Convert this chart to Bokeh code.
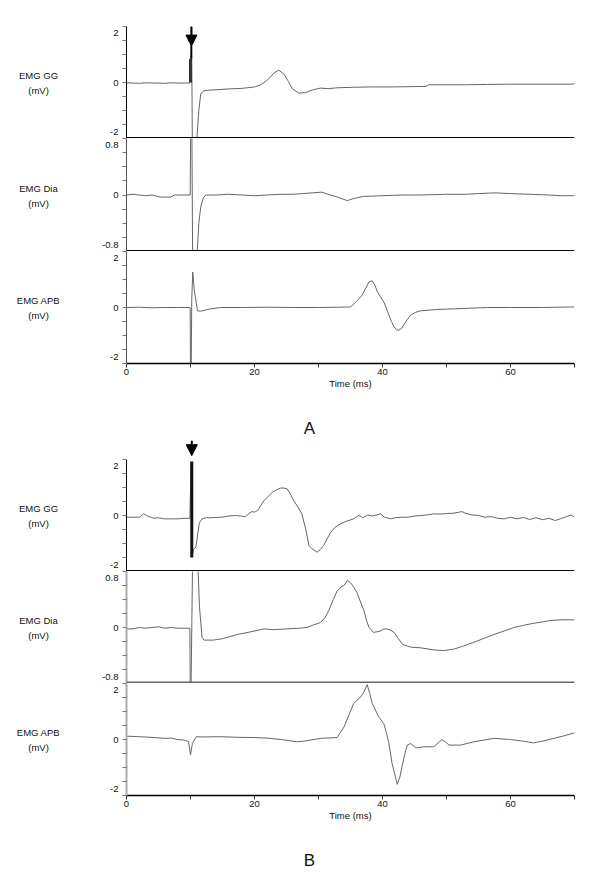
from bokeh.plotting import figure
from bokeh.layouts import column, row
from bokeh.models import Range1d, LinearAxis, FixedTicker, Span, Arrow, NormalHead
from bokeh.core.properties import value
from bokeh.embed import file_html
from bokeh.resources import INLINE

# ---------------- data (time in ms, amplitude in mV) ----------------
gg_a = [(0, -0.01), (1, -0.02), (2, -0.03), (3, -0.01), (4, -0.02), (5, -0.02), (6, -0.03),
        (7, -0.01), (8, -0.02), (9, -0.02), (9.9, -0.02), (10.0, 0.85), (10.15, 2.5), (10.3, -2.5),
        (10.9, -2.5), (11.0, -2.0), (11.3, -1.0), (11.6, -0.4), (12.1, -0.3), (13, -0.27),
        (14, -0.26), (16, -0.23), (18, -0.21), (20, -0.16), (21, -0.08), (22, 0.08), (23, 0.33),
        (23.8, 0.44), (24.6, 0.3), (25.3, 0.04), (25.9, -0.22), (26.9, -0.38), (28, -0.36),
        (29, -0.27), (30.3, -0.2), (31.5, -0.22), (32.9, -0.19), (35.5, -0.17), (38, -0.16),
        (40.7, -0.16), (44, -0.15), (46.8, -0.14), (47.2, -0.08), (50, -0.08), (53, -0.08),
        (56.4, -0.07), (60, -0.06), (63, -0.06), (66, -0.06), (69.5, -0.06), (70, -0.04)]

dia_a = [(0, 0.0), (1, 0.01), (2, 0.0), (3, -0.01), (4, 0.0), (5.3, -0.03), (6.9, -0.03),
         (7.5, 0.0), (8.5, 0.0), (9.95, 0.0), (10.05, 1.2), (10.2, 1.2), (10.35, -1.2),
         (10.9, -1.2), (11.05, -0.8), (11.3, -0.4), (11.6, -0.17), (12.0, -0.04), (12.4, 0.0),
         (14, 0.0), (16, 0.01), (18, 0.0), (20, -0.01), (22, 0.0), (24, 0.01), (26, 0.01),
         (27.5, 0.02), (29, 0.03), (30.5, 0.04), (31.5, 0.01), (33, -0.03), (34.5, -0.08),
         (35.5, -0.05), (37, -0.02), (40, -0.01), (43, 0.0), (46, 0.0), (50, 0.01), (53, 0.01),
         (55, 0.02), (57.5, 0.03), (60, 0.02), (63, 0.01), (66, 0.0), (68, -0.01), (70, -0.01)]

apb_a = [(0, 0.0), (2, 0.01), (4, -0.01), (6, 0.0), (8, 0.0), (9.95, 0.0), (10.0, -2.5),
         (10.1, -2.5), (10.2, 0.3), (10.35, 1.27), (10.6, 0.6), (11.1, -0.12), (11.6, -0.13),
         (12.5, -0.08), (13.1, -0.05), (14.7, 0.0), (18, 0.0), (22, 0.01), (26, 0.0), (30, 0.0),
         (33, 0.01), (35, 0.02), (35.5, 0.12), (36.2, 0.28), (36.8, 0.44), (37.4, 0.7),
         (37.9, 0.92), (38.4, 0.95), (38.8, 0.8), (39.2, 0.56), (39.7, 0.38), (40.2, 0.2),
         (40.6, -0.02), (41.0, -0.27), (41.4, -0.5), (41.8, -0.69), (42.2, -0.8), (42.6, -0.81),
         (43.0, -0.74), (43.3, -0.63), (43.9, -0.42), (44.4, -0.27), (45.2, -0.17), (45.9, -0.12),
         (48.5, -0.07), (51, -0.05), (56.4, 0.0), (60, 0.0), (65, 0.0), (70, 0.02)]

gg_b = [(0, -0.06), (1, -0.06), (2, -0.06), (2.7, 0.06), (3.3, -0.02), (4.3, -0.1), (5, -0.08),
        (6, -0.12), (7, -0.12), (8, -0.12), (9, -0.1), (9.9, -0.1), (10.1, 1.9), (10.25, -1.45),
        (10.5, -1.2), (10.85, -1.13), (11.1, -0.7), (11.4, -0.25), (11.8, -0.12), (12.5, -0.08),
        (13, -0.08), (14, -0.07), (15, -0.06), (16, -0.02), (17, 0.0), (18, -0.02), (18.6, -0.04),
        (19.2, 0.08), (19.6, 0.14), (20, 0.12), (20.5, 0.18), (21, 0.36), (21.5, 0.54),
        (22, 0.65), (22.8, 0.83), (23.5, 0.92), (24.1, 0.98), (24.6, 0.98), (25.1, 0.95),
        (25.6, 0.77), (26.1, 0.54), (26.8, 0.3), (27.4, 0.06), (28, -0.48), (28.5, -1.07),
        (29, -1.19), (29.8, -1.31), (30.3, -1.21), (30.8, -1.07), (31.4, -0.81), (31.9, -0.6),
        (32.6, -0.42), (33.4, -0.3), (34.3, -0.21), (35.5, -0.12), (36.3, 0.0), (37, -0.08),
        (37.7, 0.02), (38.4, -0.02), (39.1, 0.02), (39.7, 0.06), (40.3, -0.06), (41.3, -0.12),
        (42, -0.08), (43, -0.06), (44, -0.06), (45, -0.02), (46, 0.0), (47, 0.02), (48, 0.06),
        (49, 0.05), (50, 0.07), (51, 0.08), (52, 0.12), (52.4, 0.14), (53, 0.08), (54, 0.02),
        (55, 0.0), (56, -0.06), (57, -0.04), (58, -0.1), (59, -0.12), (60, -0.06), (61, -0.12),
        (62, -0.07), (63, -0.14), (64, -0.08), (65, -0.15), (66, -0.1), (67, -0.18), (68, -0.1),
        (69, -0.02), (69.5, 0.02), (70, -0.06)]

dia_b = [(0, -0.02), (1, -0.02), (2, 0.0), (3, -0.01), (4, 0.0), (5, 0.01), (6, -0.01), (7, 0.0),
         (8, -0.01), (9, -0.01), (9.9, -0.01), (10.0, -1.5), (10.4, 1.5), (10.9, 1.5), (11.4, 0.3),
         (11.8, -0.14), (12.1, -0.18), (13.6, -0.18), (15, -0.16), (17.3, -0.1), (19, -0.07),
         (21.5, -0.02), (23, -0.03), (25.1, -0.02), (27, -0.01), (28.2, 0.0), (29, 0.03),
         (30.3, 0.07), (31.0, 0.14), (31.6, 0.24), (32.3, 0.4), (32.9, 0.52), (33.5, 0.58),
         (34, 0.6), (34.5, 0.67), (35, 0.64), (35.5, 0.58), (36, 0.5), (36.5, 0.38), (37.1, 0.24),
         (37.5, 0.1), (37.9, 0.0), (38.6, -0.07), (39.2, -0.06), (39.7, -0.05), (40.2, -0.02),
         (40.7, -0.02), (41.3, -0.04), (41.8, -0.07), (42.5, -0.16), (43.1, -0.24), (44.4, -0.28),
         (45.9, -0.29), (48, -0.32), (49.5, -0.33), (51.1, -0.31), (52.5, -0.27), (54.3, -0.21),
         (56, -0.15), (57.4, -0.1), (59, -0.05), (60.5, 0.0), (62, 0.03), (63.6, 0.06),
         (65, 0.08), (66.2, 0.1), (68, 0.11), (70, 0.11)]

apb_b = [(0, 0.12), (2, 0.1), (4.3, 0.07), (6, 0.04), (7, 0.05), (8, 0.0), (9, -0.02),
         (9.7, -0.08), (10.0, -0.55), (10.3, -0.14), (10.9, 0.1), (12, 0.09), (14.7, 0.1),
         (17, 0.08), (19.9, 0.07), (22, 0.05), (24.1, 0.0), (26.7, -0.08), (28, -0.05),
         (30.3, 0.04), (32.9, 0.07), (34.0, 0.45), (34.8, 0.9), (35.5, 1.29), (36.6, 1.52),
         (37.1, 1.7), (37.6, 1.96), (38.0, 1.65), (38.4, 1.29), (39.4, 0.81), (40.2, 0.57),
         (40.6, 0.25), (41.0, -0.14), (41.5, -0.86), (42.3, -1.6), (42.7, -1.35), (43.1, -0.92),
         (43.5, -0.5), (43.9, -0.2), (44.4, -0.14), (45.2, -0.3), (46.5, -0.26), (48, -0.26),
         (48.7, -0.12), (49.3, 0.0), (49.8, -0.08), (50.4, -0.2), (52.2, -0.2), (54.3, -0.08),
         (57.4, 0.04), (60, 0.0), (62, -0.06), (63.6, -0.12), (65, -0.06), (66.8, 0.04),
         (68.5, 0.14), (70, 0.24)]

# stimulus time and stimulus-marker extent (mV)
stim_a = 10.0
stim_a_bar = (0.0, 0.85)
stim_b = 10.2
stim_b_bar = (-1.5, 1.93)

# axes
x_major = [0, 20, 40, 60]
x_minor = [10, 30, 50, 70]
gg_ticks = [-2, 0, 2]
gg_tick_labels = ["-2", "0", "2"]
gg_minor = [-1.5, -1, -0.5, 0.5, 1, 1.5]
dia_ticks = [-0.8, 0, 0.8]
dia_tick_labels = ["-0.8", "0", "0.8"]
dia_minor = [-0.6, -0.4, -0.2, 0.2, 0.4, 0.6]
apb_ticks = [-2, 0, 2]
apb_tick_labels = ["-2", "0", "2"]
apb_minor = [-1.5, -1, -0.5, 0.5, 1, 1.5]

FONT = "Liberation Sans"
TRACE = "#666666"
TXT = "#111111"
LAB_W = 90          # width of the label column
MAIN_W = 502        # width of the plot column
MAIN_LEFT = 36
RIGHT = 18
END_LABEL_SHIFT = 6.5   # px: end tick labels sit slightly inside the panel
LETTER_DX = 183         # px from the plot's left edge to the panel letter

xr = Range1d(0, 70)


def base_fig(width, height, x_range, y_range, left=0, right=0, top=0, bottom=0):
    p = figure(width=width, height=height, x_range=x_range, y_range=y_range,
               output_backend="svg", toolbar_location=None,
               x_axis_location=None, y_axis_location=None,
               min_border_left=left, min_border_right=right,
               min_border_top=top, min_border_bottom=bottom)
    p.outline_line_color = None
    p.xgrid.visible = False
    p.ygrid.visible = False
    p.background_fill_color = "white"
    p.border_fill_color = "white"
    return p


def panel(samples, lim, ticks, tick_labels, minor, name, frame_h, top=0, bottom=0,
          axis_color="black", axis_width=1, sep_color="black", sep_width=3,
          time_axis=False):
    t = [s[0] for s in samples]
    v = [s[1] for s in samples]
    yr = Range1d(lim[0], lim[1])
    h = frame_h + top + bottom
    p = base_fig(MAIN_W, h, xr, yr, left=MAIN_LEFT, right=RIGHT, top=top, bottom=bottom)

    # label positions: end labels nudged inwards like the original
    shift = END_LABEL_SHIFT * (lim[1] - lim[0]) / frame_h
    lab_pos = []
    for val in ticks:
        if val == max(ticks):
            lab_pos.append(val - shift)
        elif val == min(ticks):
            lab_pos.append(val + shift)
        else:
            lab_pos.append(val)
    ya = LinearAxis(ticker=FixedTicker(ticks=lab_pos, minor_ticks=sorted(ticks + minor)),
                    bounds=(lim[0], lim[1]))
    ya.major_label_overrides = {pos: txt for pos, txt in zip(lab_pos, tick_labels)}
    ya.axis_line_color = axis_color
    ya.axis_line_width = axis_width
    ya.major_tick_line_color = None
    ya.minor_tick_line_color = "#777777"
    ya.major_tick_out = 0
    ya.major_tick_in = 0
    ya.minor_tick_out = 4
    ya.minor_tick_in = 0
    ya.major_label_standoff = 4
    ya.major_label_text_font = FONT
    ya.major_label_text_font_size = "9.5px"
    ya.major_label_text_color = TXT
    p.add_layout(ya, "left")

    p.line(t, v, line_color=TRACE, line_width=1)

    if time_axis:
        xa = LinearAxis(ticker=FixedTicker(ticks=x_major, minor_ticks=x_minor))
        xa.axis_line_color = "black"
        xa.axis_line_width = 1.5
        xa.major_tick_line_color = "#333333"
        xa.minor_tick_line_color = "#333333"
        xa.major_tick_out = 4
        xa.major_tick_in = 0
        xa.minor_tick_out = 4
        xa.minor_tick_in = 0
        xa.major_label_standoff = 1
        xa.major_label_text_font = FONT
        xa.major_label_text_font_size = "9.5px"
        xa.major_label_text_color = TXT
        xa.axis_label = "Time (ms)"
        xa.axis_label_standoff = 0
        xa.axis_label_text_font = FONT
        xa.axis_label_text_font_size = "9.5px"
        xa.axis_label_text_font_style = "normal"
        xa.axis_label_text_color = TXT
        p.add_layout(xa, "below")
    else:
        p.add_layout(Span(location=lim[0], dimension="width", line_color=sep_color,
                          line_width=sep_width))

    # channel name column
    lab = base_fig(LAB_W, h, Range1d(0, LAB_W), yr, top=top, bottom=bottom)
    lab.text(x=[38], y=[0], text=[name], text_align="center", text_baseline="middle",
             y_offset=-7, text_font=value(FONT), text_font_size="9.5px", text_color=TXT)
    lab.text(x=[38], y=[0], text=["(mV)"], text_align="center", text_baseline="middle",
             y_offset=8, text_font=value(FONT), text_font_size="9.5px", text_color=TXT)
    return p, row(lab, p, spacing=0)


def letter_fig(letter, h):
    # same horizontal frame as the plots, so the letter is placed relative to the plot edge
    p = base_fig(LAB_W + MAIN_W, h, xr, Range1d(0, 1), left=LAB_W + MAIN_LEFT, right=RIGHT)
    p.text(x=[xr.start], y=[0.5], text=[letter], x_offset=LETTER_DX, y_offset=11,
           text_align="center", text_baseline="middle",
           text_font=value(FONT), text_font_size="17px", text_color=TXT)
    return p


# ---- group A ----
pa1, ra1 = panel(gg_a, (-2, 2), gg_ticks, gg_tick_labels, gg_minor, "EMG GG", 112, top=26)
pa1.segment(x0=[stim_a], y0=[stim_a_bar[0]], x1=[stim_a], y1=[stim_a_bar[1]],
            line_color="#333333", line_width=3)
pa1.segment(x0=[stim_a + 0.15], y0=[stim_a_bar[1]], x1=[stim_a + 0.15], y1=[1.3],
            line_color="black", line_width=1.5)
pa1.add_layout(Arrow(end=NormalHead(size=11, fill_color="black", line_color="black"),
                     x_start=stim_a + 0.15, y_start=2.0, x_end=stim_a + 0.15, y_end=1.3,
                     line_color="black", line_width=2))

pa2, ra2 = panel(dia_a, (-0.8, 0.8), dia_ticks, dia_tick_labels, dia_minor, "EMG Dia", 113,
                 axis_color="#555555")
pa3, ra3 = panel(apb_a, (-2, 2), apb_ticks, apb_tick_labels, apb_minor, "EMG APB", 112,
                 bottom=30, axis_color="#555555", time_axis=True)
la = letter_fig("A", 47)

# ---- stimulus arrow strip above group B ----
arr_b = base_fig(LAB_W + MAIN_W, 19, xr, Range1d(0, 1), left=LAB_W + MAIN_LEFT, right=RIGHT)
arr_b.add_layout(Arrow(end=NormalHead(size=11, fill_color="black", line_color="black"),
                       x_start=stim_b, y_start=1.0, x_end=stim_b, y_end=0.2,
                       line_color="black", line_width=2))

# ---- group B ----
pb1, rb1 = panel(gg_b, (-2, 2), gg_ticks, gg_tick_labels, gg_minor, "EMG GG", 112)
pb1.segment(x0=[stim_b], y0=[stim_b_bar[0]], x1=[stim_b], y1=[stim_b_bar[1]],
            line_color="#111111", line_width=3)

pb2, rb2 = panel(dia_b, (-0.8, 0.8), dia_ticks, dia_tick_labels, dia_minor, "EMG Dia", 112,
                 axis_color="#aaaaaa", axis_width=2, sep_color="#666666", sep_width=4)
pb3, rb3 = panel(apb_b, (-2, 2), apb_ticks, apb_tick_labels, apb_minor, "EMG APB", 112,
                 bottom=30, axis_color="#aaaaaa", axis_width=2, time_axis=True)
lb = letter_fig("B", 47)

layout = column(ra1, ra2, ra3, la, arr_b, rb1, rb2, rb3, lb, spacing=0)

open("out.html", "w").write(file_html(layout, INLINE))
